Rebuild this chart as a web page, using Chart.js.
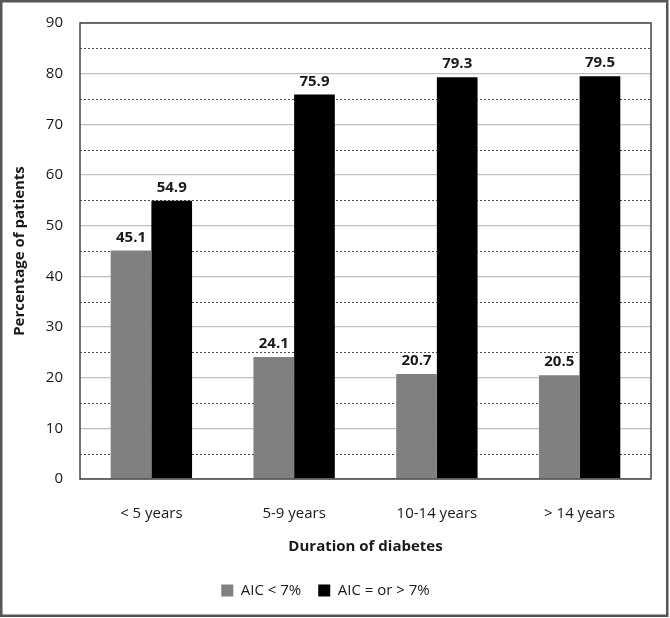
<!DOCTYPE html>
<html>
<head>
<meta charset="utf-8">
<script src="https://cdn.jsdelivr.net/npm/chart.js@4/dist/chart.umd.min.js"></script>
<style>
  html, body { margin: 0; padding: 0; background: #fff; }
  #wrap { width: 670px; height: 618px; position: relative; }
</style>
</head>
<body>
<div id="wrap"><canvas id="myChart" width="670" height="618"></canvas></div>
<script>
// data
var categories = ["< 5 years", "5-9 years", "10-14 years", "> 14 years"];
var below7 = [45.1, 24.1, 20.7, 20.5];
var atOrAbove7 = [54.9, 75.9, 79.3, 79.5];
var seriesNames = ["AIC < 7%", "AIC = or > 7%"];
var barColors = ["#808080", "#000000"];
var yTicks = [0, 10, 20, 30, 40, 50, 60, 70, 80, 90];
var halfTicks = [5, 15, 25, 35, 45, 55, 65, 75, 85];

Chart.defaults.font.family = "'Open Sans', sans-serif";
Chart.defaults.font.size = 15;
Chart.defaults.color = "#1a1a1a";

//================ frame + dashed half lines + value labels ================//
var extras = {
  id: "extras",
  beforeDraw: function(chart) {
    var c = chart.ctx;
    c.save();
    c.fillStyle = "#fff";
    c.fillRect(0, 0, chart.width, chart.height);
    c.restore();
  },
  beforeDatasetsDraw: function(chart) {
    var c = chart.ctx, a = chart.chartArea, y = chart.scales.y;
    c.save();
    c.strokeStyle = "#4a4a4a";
    c.lineWidth = 1;
    c.setLineDash([2, 2]);
    halfTicks.forEach(function(v) {
      var py = Math.round(y.getPixelForValue(v)) + 0.5;
      c.beginPath();
      c.moveTo(a.left, py);
      c.lineTo(a.right, py);
      c.stroke();
    });
    c.restore();
  },
  afterDatasetsDraw: function(chart) {
    var c = chart.ctx;
    c.save();
    c.font = "bold 15px 'Open Sans', sans-serif";
    c.fillStyle = "#1a1a1a";
    c.textAlign = "center";
    c.textBaseline = "middle";
    chart.data.datasets.forEach(function(ds, i) {
      chart.getDatasetMeta(i).data.forEach(function(bar, j) {
        c.fillText(ds.data[j].toFixed(1), bar.x, bar.y - 13);
      });
    });
    c.restore();
  },
  afterDraw: function(chart) {
    var c = chart.ctx, a = chart.chartArea;
    c.save();
    c.strokeStyle = "#444";
    c.lineWidth = 1.5;
    c.strokeRect(a.left, a.top, a.right - a.left, a.bottom - a.top);
    c.strokeStyle = "#555";
    c.lineWidth = 2.5;
    c.strokeRect(1.25, 1.25, 666, 614.5);
    c.restore();
  }
};

var ctx = document.getElementById("myChart").getContext("2d");
new Chart(ctx, {
  type: "bar",
  data: {
    labels: categories,
    datasets: [
      { label: seriesNames[0], data: below7, backgroundColor: barColors[0] },
      { label: seriesNames[1], data: atOrAbove7, backgroundColor: barColors[1] }
    ]
  },
  options: {
    responsive: false,
    animation: false,
    devicePixelRatio: 1,
    categoryPercentage: 0.57,
    barPercentage: 1.0,
    layout: { padding: { left: 0, top: 23, right: 19, bottom: 10 } },
    plugins: {
      tooltip: { enabled: false },
      legend: {
        position: "bottom",
        labels: {
          boxWidth: 12,
          boxHeight: 12,
          padding: 17,
          color: "#1a1a1a",
          font: { size: 15 }
        }
      }
    },
    scales: {
      x: {
        grid: { display: false, drawTicks: false },
        border: { display: false },
        ticks: { padding: 26, color: "#1a1a1a" },
        title: {
          display: true,
          text: "Duration of diabetes",
          font: { size: 15, weight: "bold" },
          color: "#1a1a1a",
          padding: { top: 0, bottom: 10 }
        },
        afterFit: function(scale) { scale.height = 87; }
      },
      y: {
        min: 0,
        max: 90,
        afterBuildTicks: function(scale) {
          scale.ticks = yTicks.map(function(v) { return { value: v }; });
        },
        grid: {
          color: "#c0c0c0",
          lineWidth: 1.3,
          drawTicks: false
        },
        border: { display: false },
        ticks: { padding: 17, color: "#1a1a1a" },
        title: {
          display: true,
          text: "Percentage of patients",
          font: { size: 15, weight: "bold" },
          color: "#1a1a1a",
          padding: { top: 11, bottom: 0 }
        },
        afterFit: function(scale) {
          scale.width = 80;
          scale.paddingTop = 0;
          scale.paddingBottom = 0;
        }
      }
    }
  },
  plugins: [extras]
});
</script>
</body>
</html>
